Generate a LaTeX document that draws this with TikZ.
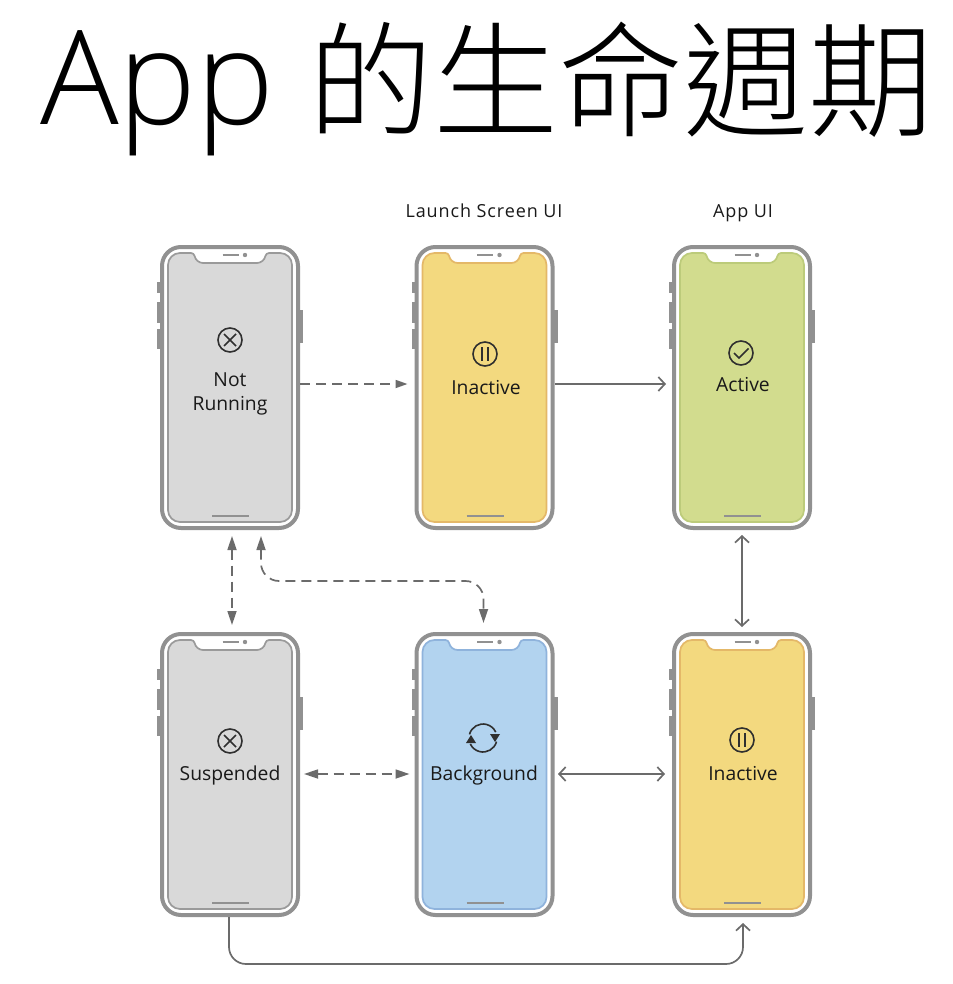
\documentclass[tikz,border=0pt]{standalone}
\usepackage{fontspec}
\usetikzlibrary{arrows.meta}
\setmainfont{Open Sans}
\newfontfamily\cjkfont{Noto Sans CJK TC Light}
\newfontfamily\lightfont{Open Sans Light}

\definecolor{framegray}{HTML}{919191}
\definecolor{flowgray}{HTML}{6B6B6B}
\definecolor{inkgray}{HTML}{2F2F2F}
\definecolor{stoppedfill}{HTML}{D9D9D9}
\definecolor{stoppededge}{HTML}{9A9A9A}
\definecolor{pausedfill}{HTML}{F3D97F}
\definecolor{pausededge}{HTML}{E4B868}
\definecolor{activefill}{HTML}{D2DC8E}
\definecolor{activeedge}{HTML}{BCCB7A}
\definecolor{backfill}{HTML}{B2D3EF}
\definecolor{backedge}{HTML}{8FB3DC}

\tikzset{
  phonebody/.style={draw=framegray, line width=4pt, rounded corners=19pt, fill=white,
    minimum width=136pt, minimum height=281pt, inner sep=0pt},
  phonekey/.style={fill=framegray},
  phoneline/.style={draw=framegray, line width=2pt},
  iconring/.style={draw=inkgray, circle, line width=1.6pt, minimum size=24pt, inner sep=0pt},
  iconmark/.style={draw=inkgray, line width=1.6pt},
  statelabel/.style={font=\fontsize{19.3}{19.3}\selectfont, text=black!90, anchor=base},
  toplabel/.style={font=\fontsize{18}{18}\selectfont\addfontfeature{LetterSpace=5}, text=black!90, anchor=base},
  solidflow/.style={draw=flowgray, line width=1.7pt, {Straight Barb[length=6.5pt,width=14pt]}-{Straight Barb[length=6.5pt,width=14pt]}},
  solidone/.style={draw=flowgray, line width=1.7pt, -{Straight Barb[length=6.5pt,width=14pt]}},
  dashflow/.style={draw=flowgray, line width=1.7pt, dash pattern=on 10pt off 6pt, {Stealth[length=14pt,width=9pt,inset=0pt]}-{Stealth[length=14pt,width=9pt,inset=0pt]}},
  dashone/.style={draw=flowgray, line width=1.7pt, dash pattern=on 10pt off 6pt, -{Stealth[length=12pt,width=8pt,inset=0pt]}}
}

% name, x, y, screen fill, screen edge
\newcommand{\phone}[5]{
  \fill[phonekey] (#2-73,#3-105.5) rectangle ++(3.5,11);
  \fill[phonekey] (#2-73,#3-85.5) rectangle ++(3.5,21);
  \fill[phonekey] (#2-73,#3-58.5) rectangle ++(3.5,20);
  \fill[phonekey] (#2+69.5,#3-77.5) rectangle ++(3.5,33);
  \node[phonebody] (#1) at (#2,#3) {};
  \begin{scope}[shift={(#2,#3)}]
    \path[fill=#4, draw=#5, line width=1.7pt] (-62,0) [rounded corners=12pt] -- (-62,-134.5)
      [rounded corners=3pt] -- (-36,-134.5) [rounded corners=7pt] -- (-34,-124.5) -- (34,-124.5)
      [rounded corners=3pt] -- (36,-134.5) [rounded corners=12pt] -- (62,-134.5) -- (62,134.5)
      -- (-62,134.5) -- cycle;
    \draw[phoneline] (-7.5,-132.5) -- (8.5,-132.5);
    \fill[framegray] (15,-132.5) circle (2.2);
    \draw[phoneline] (-18,128) -- (19,128);
  \end{scope}
}
\newcommand{\iconcross}[3]{
  \node[iconring] (#1) at (#2,#3) {};
  \draw[iconmark] (#2-6,#3-6) -- (#2+6,#3+6);
  \draw[iconmark] (#2-6,#3+6) -- (#2+6,#3-6);
}
\newcommand{\iconpause}[3]{
  \node[iconring] (#1) at (#2,#3) {};
  \draw[iconmark] (#2-3,#3-7) -- (#2-3,#3+7);
  \draw[iconmark] (#2+3,#3-7) -- (#2+3,#3+7);
}
\newcommand{\iconcheck}[3]{
  \node[iconring] (#1) at (#2,#3) {};
  \draw[iconmark] (#2-7,#3) -- (#2-2,#3+5) -- (#2+7.5,#3-4.5);
}
\newcommand{\iconsync}[3]{
  \coordinate (#1) at (#2,#3);
  \draw[iconmark] ([shift={(165:14pt)}]#1) arc[start angle=165, end angle=25, radius=14pt];
  \draw[iconmark] ([shift={(345:14pt)}]#1) arc[start angle=345, end angle=205, radius=14pt];
  \fill[inkgray] (#2+7,#3-4) -- (#2+17,#3-4) -- (#2+12,#3+4) -- cycle;
  \fill[inkgray] (#2-17,#3+5) -- (#2-7,#3+5) -- (#2-12,#3-3) -- cycle;
}

\begin{document}
\begin{tikzpicture}[x=1pt, y=-1pt]
  \useasboundingbox (0,0) rectangle (952,984);

  % Title
  \node[anchor=base west, inner sep=0pt] (title) at (40,125)
    {\fontsize{131}{131}\selectfont\lightfont App\hspace{34pt}\fontsize{125}{125}\selectfont\cjkfont\raisebox{-3pt}{的生命週期}};

  % Phones
  \phone{notrunning}{230}{387.5}{stoppedfill}{stoppededge}
  \phone{launching}{484.5}{387.5}{pausedfill}{pausededge}
  \phone{active}{742}{387.5}{activefill}{activeedge}
  \phone{suspended}{230}{774.5}{stoppedfill}{stoppededge}
  \phone{background}{484.5}{774.5}{backfill}{backedge}
  \phone{inactive}{742}{774.5}{pausedfill}{pausededge}

  % Labels
  \node[toplabel] (launchui) at (484,218) {Launch Screen UI};
  \node[toplabel] (appui) at (743,218) {App UI};
  \node[statelabel] (notlabel) at (230,386) {Not};
  \node[statelabel] (runlabel) at (230,410) {Running};
  \node[statelabel] (launchlabel) at (486,394) {Inactive};
  \node[statelabel] (activelabel) at (743,391) {Active};
  \node[statelabel] (suspendlabel) at (230,780) {Suspended};
  \node[statelabel] (backlabel) at (484,780) {Background};
  \node[statelabel] (inactivelabel) at (743,780) {Inactive};

  % Icons
  \iconcross{notricon}{230}{340}
  \iconpause{launchicon}{485}{354}
  \iconcheck{activeicon}{741}{353}
  \iconcross{suspendicon}{230}{741}
  \iconsync{backicon}{483}{738}
  \iconpause{inactiveicon}{742}{740}

  % Edges
  \draw[dashone] ([yshift=3.5pt]notrunning.east) -- ([yshift=3.5pt,xshift=-7pt]launching.west);
  \draw[solidone] ([yshift=3.5pt]launching.east) -- ([yshift=3.5pt,xshift=-6pt]active.west);
  \draw[solidflow] ([yshift=-5pt]active.south) -- ([yshift=5pt]inactive.north);
  \draw[dashflow] ([xshift=2pt,yshift=-6pt]notrunning.south) -- ([xshift=2pt,yshift=7pt]suspended.north);
  \draw[dashflow, rounded corners=18pt] ([xshift=31pt,yshift=-6pt]notrunning.south) |- (300,581)
    -| ([xshift=-1pt,yshift=9pt]background.north);
  \draw[dashflow] ([xshift=4pt,yshift=0.5pt]suspended.east) -- ([xshift=-5pt,yshift=0.5pt]background.west);
  \draw[solidflow] ([xshift=3.5pt,yshift=0.5pt]background.east) -- ([xshift=-7pt,yshift=0.5pt]inactive.west);
  \draw[solidone, rounded corners=17pt] ([xshift=-1pt]suspended.south) |- (500,964)
    -| ([xshift=1pt,yshift=-6pt]inactive.south);
\end{tikzpicture}
\end{document}
